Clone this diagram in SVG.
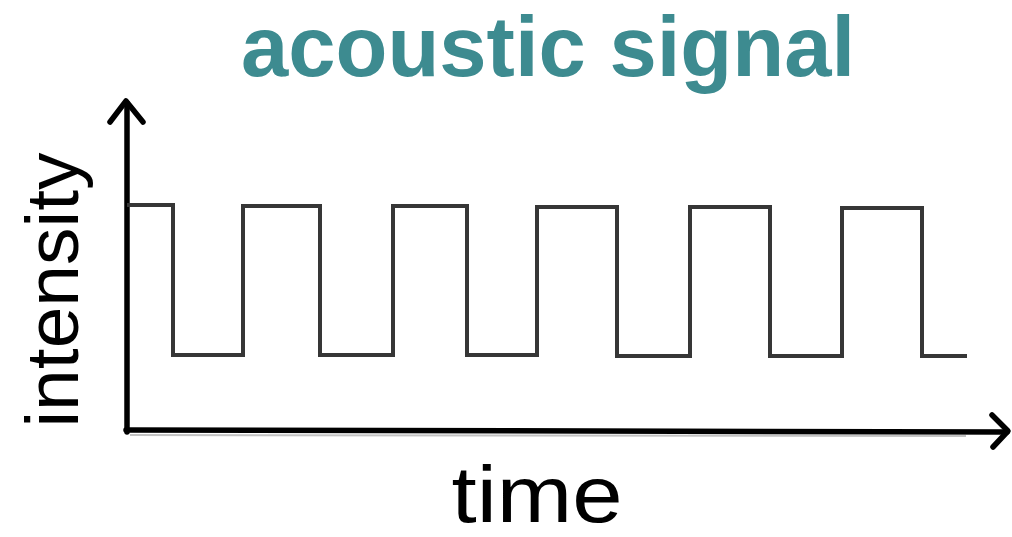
<svg xmlns="http://www.w3.org/2000/svg" width="1012" height="537" viewBox="0 0 1012 537">
  <style>
    .axis { fill: none; stroke: #000; stroke-width: 5.5; stroke-linecap: round; stroke-linejoin: round; }
    .wave { fill: none; stroke: #363636; stroke-width: 4; stroke-linejoin: miter; stroke-linecap: butt; }
    .title { font-family: "Liberation Sans", Arial, sans-serif; font-weight: bold; font-size: 85px; fill: #3d8b90; }
    .label { font-family: "Liberation Sans", Arial, sans-serif; font-size: 78px; fill: #000; }
  </style>
  <rect width="1012" height="537" fill="#ffffff"/>
  <g id="title">
    <text class="title" x="548" y="76" text-anchor="middle">acoustic signal</text>
  </g>
  <g id="connectors">
    <line x1="130" y1="435" x2="966" y2="436" stroke="#9a9a9a" stroke-width="2" opacity="0.6"/>
    <line class="axis" x1="127" y1="432" x2="127" y2="103"/>
    <polyline class="axis" points="110,122 126,101 143,122"/>
    <line class="axis" x1="126" y1="430" x2="1007" y2="432"/>
    <polyline class="axis" points="992,415 1008,431 993,447"/>
  </g>
  <g id="signal">
    <path class="wave" d="M127,205 H173 V355 H243 V206 H320 V355 H393 V206 H467 V355 H537 V207 H617 V356 H690 V207 H770 V356 H842 V208 H922 V356 H967"/>
  </g>
  <g id="y-label">
    <text class="label" font-size="75" transform="translate(78,290) rotate(-90)" text-anchor="middle" style="font-size:75px">intensity</text>
  </g>
  <g id="x-label">
    <text class="label" x="537" y="522" text-anchor="middle" style="font-size:80px" textLength="171" lengthAdjust="spacingAndGlyphs">time</text>
  </g>
</svg>
